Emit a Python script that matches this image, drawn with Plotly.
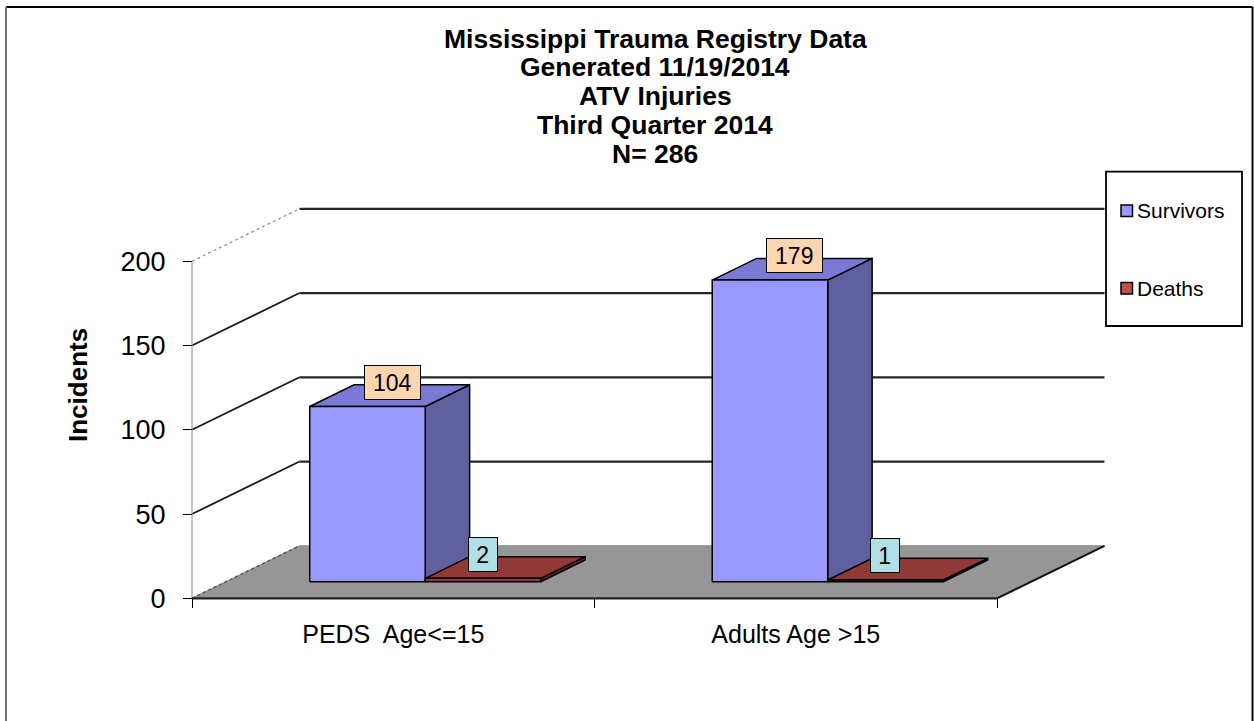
import plotly.graph_objects as go

# ---------------- data ----------------
categories = ["PEDS&nbsp; Age&lt;=15", "Adults Age &gt;15"]
series_names = ["Survivors", "Deaths"]
survivors = [104, 179]
deaths = [2, 1]
y_ticks = [0, 50, 100, 150, 200]
y_tick_labels = ["0", "50", "100", "150", "200"]
title_lines = ["Mississippi Trauma Registry Data", "Generated 11/19/2014",
               "ATV Injuries", "Third Quarter 2014", "N= 286"]
y_title = "Incidents"

# ---------------- geometry / style ----------------
W, H = 1254, 721
PX_PER_UNIT = 1.685
ZERO_PX = 598.3
FLOOR_X0 = 192.0
FLOOR_W = 805.0
CAT_W = FLOOR_W / len(categories)
DEPTH_DX = 107.5
DEPTH_DY = 52.5 / PX_PER_UNIT
BAR_W = 115.5
PAIR_SHIFT = -2.0
D_FRONT, D_BACK = 0.316, 0.729
FONT = "Liberation Sans, Arial, sans-serif"

face_colors = {
    "Survivors": {"front": "#9999FF", "top": "#7A7AD6", "side": "#60609E"},
    "Deaths": {"front": "#993333", "top": "#8F3A36", "side": "#6B2424"},
}
legend_colors = {"Survivors": "#9999FF", "Deaths": "#C0504D"}
label_bg = {"Survivors": "#FDD5B1", "Deaths": "#B0E0E6"}
label_xoff = {"Survivors": 25.0, "Deaths": 0.0}

y_lo = -(H - ZERO_PX) / PX_PER_UNIT
y_hi = ZERO_PX / PX_PER_UNIT


def proj(xf, v, d):
    return xf + d * DEPTH_DX, v + d * DEPTH_DY


def py(pix):
    return (H - pix) / H


def px(pix):
    return pix / W


fig = go.Figure()


def poly(points, fill, line_color="black", line_width=1.5):
    xs = [p[0] for p in points] + [points[0][0]]
    ys = [p[1] for p in points] + [points[0][1]]
    fig.add_trace(go.Scatter(x=xs, y=ys, mode="lines", fill="toself",
                             fillcolor=fill,
                             line=dict(color=line_color, width=line_width),
                             hoverinfo="skip", showlegend=False))


def seg(points, color, width, dash="solid"):
    fig.add_trace(go.Scatter(x=[p[0] for p in points], y=[p[1] for p in points],
                             mode="lines", line=dict(color=color, width=width, dash=dash),
                             hoverinfo="skip", showlegend=False))


x_right = FLOOR_X0 + FLOOR_W

# walls: side-wall diagonals and back-wall gridlines
for t in y_ticks[1:]:
    a = proj(FLOOR_X0, t, 0)
    b = proj(FLOOR_X0, t, 1)
    c = proj(x_right, t, 1)
    if t == y_ticks[-1]:
        seg([a, b], "#8c8c8c", 1.2, "dot")
    else:
        seg([a, b], "#1a1a1a", 1.8)
    seg([b, c], "#262626", 2.2)

# value axis line
seg([proj(FLOOR_X0, y_ticks[0], 0), proj(FLOOR_X0, y_ticks[-1], 0)], "#9a9a9a", 1.2)

# floor
floor = [proj(FLOOR_X0, 0, 0), proj(x_right, 0, 0), proj(x_right, 0, 1), proj(FLOOR_X0, 0, 1)]
poly(floor, "#969696", "#858585", 1)
seg([proj(FLOOR_X0, 0, 0), proj(FLOOR_X0, 0, 1)], "#555555", 1.5, "dot")
seg([proj(x_right, 0, 0), proj(x_right, 0, 1)], "#111111", 2)
seg([proj(FLOOR_X0, 0, 0), proj(x_right, 0, 0)], "#222222", 2.2)

# bars
series_vals = {"Survivors": survivors, "Deaths": deaths}
annotations = []
for i in range(len(categories)):
    c = FLOOR_X0 + CAT_W * (i + 0.5) + PAIR_SHIFT
    for k, name in enumerate(series_names):
        v = series_vals[name][i]
        x0 = c - BAR_W + k * BAR_W
        x1 = x0 + BAR_W
        col = face_colors[name]
        side = [proj(x1, 0, D_FRONT), proj(x1, 0, D_BACK), proj(x1, v, D_BACK), proj(x1, v, D_FRONT)]
        top = [proj(x0, v, D_FRONT), proj(x1, v, D_FRONT), proj(x1, v, D_BACK), proj(x0, v, D_BACK)]
        front = [proj(x0, 0, D_FRONT), proj(x1, 0, D_FRONT), proj(x1, v, D_FRONT), proj(x0, v, D_FRONT)]
        poly(side, col["side"])
        poly(top, col["top"])
        poly(front, col["front"])
        fx, fy = proj((x0 + x1) / 2, v, D_FRONT)
        _, ty = proj((x0 + x1) / 2, v, (D_FRONT + D_BACK) / 2)
        n = len(str(v))
        annotations.append(dict(
            x=fx + label_xoff[name], y=ty, xref="x", yref="y", text=str(v),
            showarrow=False, xanchor="center", yanchor="middle", yshift=13.5,
            font=dict(family=FONT, size=23, color="black"),
            bgcolor=label_bg[name], bordercolor="black", borderwidth=1, borderpad=4,
            width=6 + 13.5 * n, height=25))

# title lines
for j, line in enumerate(title_lines):
    annotations.append(dict(
        x=px(655), y=py(38.7 + 28.8 * j), xref="paper", yref="paper",
        text="<b>" + line + "</b>", showarrow=False, xanchor="center", yanchor="middle",
        font=dict(family=FONT, size=26.5, color="black")))

# value axis title
annotations.append(dict(
    x=px(78), y=py(385), xref="paper", yref="paper", text="<b>" + y_title + "</b>",
    textangle=-90, showarrow=False, xanchor="center", yanchor="middle",
    font=dict(family=FONT, size=26, color="black")))

# legend (drawn)
shapes = []
leg_x0, leg_x1, leg_y0, leg_y1 = 1106, 1242, 171.7, 326
shapes.append(dict(type="rect", xref="paper", yref="paper",
                   x0=px(leg_x0), x1=px(leg_x1), y0=py(leg_y1), y1=py(leg_y0),
                   line=dict(color="black", width=1.8), fillcolor="white"))
leg_rows = [210.7, 288.3]
for name, yc in zip(series_names, leg_rows):
    shapes.append(dict(type="rect", xref="paper", yref="paper",
                       x0=px(1121), x1=px(1132.5), y0=py(yc + 5.8), y1=py(yc - 5.8),
                       line=dict(color="black", width=1.5), fillcolor=legend_colors[name]))
    annotations.append(dict(
        x=px(1135), y=py(yc), xref="paper", yref="paper", text=name, showarrow=False,
        xanchor="left", yanchor="middle", font=dict(family=FONT, size=21, color="black")))

# outer border
shapes.append(dict(type="line", xref="paper", yref="paper", x0=px(6), x1=px(1252.5),
                   y0=py(7), y1=py(7), line=dict(color="black", width=2)))
shapes.append(dict(type="line", xref="paper", yref="paper", x0=px(6), x1=px(6),
                   y0=py(7), y1=py(730), line=dict(color="#707070", width=2)))
shapes.append(dict(type="line", xref="paper", yref="paper", x0=px(1252.5), x1=px(1252.5),
                   y0=py(7), y1=py(730), line=dict(color="black", width=2)))

cat_centers = [FLOOR_X0 + CAT_W * (i + 0.5) for i in range(len(categories))]
cat_bounds = [FLOOR_X0 + CAT_W * i for i in range(len(categories) + 1)]

fig.update_layout(
    width=W, height=H, margin=dict(l=0, r=0, t=0, b=0),
    paper_bgcolor="white", plot_bgcolor="white", showlegend=False,
    font=dict(family=FONT, color="black"),
    annotations=annotations, shapes=shapes,
    xaxis=dict(range=[0, W], domain=[0, 1], anchor="free", position=py(ZERO_PX),
               showgrid=False, zeroline=False, showline=False,
               tickmode="array", tickvals=cat_centers, ticktext=categories,
               ticks="", tickfont=dict(family=FONT, size=25, color="black"),
               ticklabelstandoff=19,
               minor=dict(tickmode="array", tickvals=cat_bounds, ticks="outside",
                          ticklen=9, tickcolor="black", tickwidth=1.2),
               fixedrange=True),
    yaxis=dict(range=[y_lo, y_hi], domain=[0, 1], anchor="free", position=px(FLOOR_X0),
               showgrid=False, zeroline=False, showline=False,
               tickmode="array", tickvals=y_ticks, ticktext=y_tick_labels,
               ticks="outside", ticklen=9, tickcolor="black", tickwidth=1.2,
               tickfont=dict(family=FONT, size=27, color="black"),
               ticklabelstandoff=12, fixedrange=True),
)

fig.write_html("out.html", config={"displayModeBar": False},
               post_script="document.body.style.margin='0';")
